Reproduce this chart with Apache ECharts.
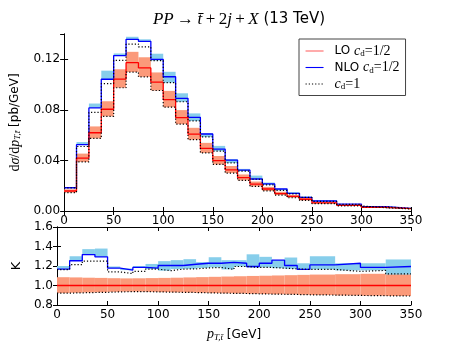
<!DOCTYPE html>
<html>
<head>
<meta charset="utf-8">
<script src="https://cdn.jsdelivr.net/npm/echarts@6/dist/echarts.min.js"></script>
<style>
  html, body { margin: 0; padding: 0; background: #fff; }
  #chart { width: 457px; height: 343px; }
</style>
</head>
<body>
<div id="chart"></div>
<script>
// bin edges in GeV (12.5 wide up to 250, then 25 wide)
const edges = [0, 12.5, 25, 37.5, 50, 62.5, 75, 87.5, 100, 112.5, 125, 137.5, 150,
  162.5, 175, 187.5, 200, 212.5, 225, 237.5, 250, 275, 300, 325, 350];

// upper panel: d sigma / d pT  [pb/GeV]
const nlo = [0.0184, 0.0525, 0.0815, 0.1042, 0.1229, 0.1358, 0.1342, 0.1200, 0.1062, 0.0891, 0.0741, 0.0609,
  0.0490, 0.0403, 0.0324, 0.0253, 0.0214, 0.0174, 0.0140, 0.0108, 0.0079, 0.0055, 0.0034, 0.0021];
const nloDot = [0.0183, 0.0510, 0.0780, 0.1008, 0.1192, 0.1320, 0.1298, 0.1190, 0.1015, 0.0864, 0.0713, 0.0586,
  0.0473, 0.0381, 0.0316, 0.0251, 0.0206, 0.0163, 0.0136, 0.0108, 0.0076, 0.0052, 0.0033, 0.0020];
const nloLo = [0.0184, 0.0525, 0.0815, 0.1042, 0.1229, 0.1358, 0.1342, 0.1190, 0.1015, 0.0863, 0.0712, 0.0585,
  0.0473, 0.0380, 0.0315, 0.0251, 0.0206, 0.0163, 0.0136, 0.0108, 0.0076, 0.0052, 0.0033, 0.0020];
const nloHi = [0.0190, 0.0545, 0.0850, 0.1110, 0.1246, 0.1378, 0.1358, 0.1244, 0.1101, 0.0931, 0.0772, 0.0615,
  0.0515, 0.0411, 0.0333, 0.0280, 0.0225, 0.0176, 0.0149, 0.0114, 0.0085, 0.0056, 0.0036, 0.0023];
const lo = [0.0158, 0.0419, 0.0619, 0.0805, 0.1043, 0.1173, 0.1132, 0.1019, 0.0881, 0.0739, 0.0608, 0.0496,
  0.0399, 0.0326, 0.0264, 0.0212, 0.0174, 0.0138, 0.0116, 0.0093, 0.0065, 0.0045, 0.0029, 0.0018];
const loDot = [0.0146, 0.0388, 0.0574, 0.0749, 0.0975, 0.1099, 0.1061, 0.0953, 0.0821, 0.0687, 0.0564, 0.0459,
  0.0368, 0.0300, 0.0242, 0.0194, 0.0159, 0.0126, 0.0105, 0.0084, 0.0059, 0.0040, 0.0026, 0.0016];
const loHi = [0.0171, 0.0454, 0.0669, 0.0868, 0.1121, 0.1259, 0.1216, 0.1096, 0.0950, 0.0798, 0.0658, 0.0539,
  0.0435, 0.0356, 0.0289, 0.0233, 0.0191, 0.0152, 0.0128, 0.0103, 0.0072, 0.0050, 0.0032, 0.0020];

// lower panel: K factor
const kNlo = [1.168, 1.254, 1.317, 1.294, 1.178, 1.158, 1.185, 1.178, 1.205, 1.205, 1.218, 1.228,
  1.228, 1.237, 1.228, 1.195, 1.228, 1.260, 1.205, 1.165, 1.211, 1.228, 1.185, 1.195];
const kNloDot = [1.163, 1.215, 1.250, 1.250, 1.139, 1.122, 1.145, 1.168, 1.152, 1.168, 1.171, 1.180,
  1.185, 1.165, 1.195, 1.185, 1.185, 1.178, 1.171, 1.165, 1.165, 1.145, 1.155, 1.120];
const kNloLo = [1.168, 1.254, 1.317, 1.294, 1.178, 1.158, 1.185, 1.168, 1.152, 1.168, 1.171, 1.180,
  1.185, 1.165, 1.195, 1.185, 1.185, 1.178, 1.171, 1.165, 1.165, 1.155, 1.155, 1.112];
const kNloHi = [1.200, 1.300, 1.373, 1.379, 1.195, 1.175, 1.200, 1.221, 1.250, 1.260, 1.270, 1.240,
  1.290, 1.260, 1.260, 1.320, 1.294, 1.260, 1.287, 1.228, 1.300, 1.228, 1.228, 1.267];
const kLo = [1, 1, 1, 1, 1, 1, 1, 1, 1, 1, 1, 1, 1, 1, 1, 1, 1, 1, 1, 1, 1, 1, 1, 1];
const kLoDot = [0.922, 0.925, 0.928, 0.930, 0.935, 0.937, 0.937, 0.935, 0.932, 0.930, 0.928, 0.925,
  0.922, 0.920, 0.918, 0.915, 0.912, 0.910, 0.908, 0.905, 0.902, 0.898, 0.895, 0.892];
const kLoHi = [1.085, 1.083, 1.080, 1.078, 1.075, 1.073, 1.074, 1.076, 1.078, 1.080, 1.083, 1.086,
  1.089, 1.092, 1.095, 1.098, 1.100, 1.103, 1.106, 1.109, 1.112, 1.116, 1.120, 1.124];

const FONT = 'DejaVu Sans';
const MATH = 'Liberation Serif';
const BLUE = '#0000ff', RED = '#ff0000';
const BLUE_BAND = '#87ceeb', RED_BAND = '#fb9a7a';

const stepData = vals => edges.map((e, i) => [e, vals[Math.min(i, vals.length - 1)]]);
const binData = (a, b) => a.map((v, i) => [edges[i], edges[i + 1], v, b[i]]);

const bandRender = color => (params, api) => {
  const p0 = api.coord([api.value(0), api.value(3)]);
  const p1 = api.coord([api.value(1), api.value(2)]);
  return {
    type: 'rect',
    shape: { x: p0[0], y: p0[1], width: p1[0] - p0[0], height: p1[1] - p0[1] },
    style: { fill: color }
  };
};

const band = (name, a, b, color, xi, yi) => ({
  name, type: 'custom', xAxisIndex: xi, yAxisIndex: yi, clip: true, z: 1,
  renderItem: bandRender(color), encode: { x: [0, 1], y: [2, 3] }, data: binData(a, b)
});
const step = (name, vals, color, xi, yi, dotted) => ({
  name, type: 'line', step: 'end', xAxisIndex: xi, yAxisIndex: yi, symbol: 'none', z: dotted ? 4 : 3,
  lineStyle: { color, width: dotted ? 1.2 : 1.3, type: dotted ? [1.2, 2] : 'solid' },
  itemStyle: { color }, data: stepData(vals)
});

const rich = {
  n: { fontFamily: FONT, fontSize: 12, color: '#000' },
  m: { fontFamily: MATH, fontStyle: 'italic', fontSize: 14, color: '#000' },
  r: { fontFamily: MATH, fontSize: 14, color: '#000' },
  si: { fontFamily: MATH, fontStyle: 'italic', fontSize: 9, color: '#000', padding: [6, 0, 0, 0] }
};

const xAxisBase = (gi, pos, labels) => ({
  type: 'value', gridIndex: gi, position: pos, min: 0, max: 350, interval: 50,
  axisLine: { lineStyle: { color: '#000', width: 1 } },
  axisTick: { inside: true, length: 4, lineStyle: { color: '#000' } },
  axisLabel: { show: labels, fontFamily: FONT, fontSize: 12, color: '#000', margin: 4 },
  splitLine: { show: false }
});
const yAxisBase = (gi, pos, min, max, interval, labels, digits) => ({
  type: 'value', gridIndex: gi, position: pos, min, max, interval,
  axisLine: { show: true, lineStyle: { color: '#000', width: 1 } },
  axisTick: { show: true, inside: true, length: 4, lineStyle: { color: '#000' } },
  axisLabel: { show: labels, showMaxLabel: gi === 1, fontFamily: FONT, fontSize: 12, color: '#000', margin: 4,
    formatter: v => v.toFixed(digits) },
  splitLine: { show: false }
});

const chart = echarts.init(document.getElementById('chart'));

const sp = '\u2009';
const option = {
  animation: false,
  backgroundColor: '#fff',
  title: {
    text: '{m|PP}{r|' + sp + '\u2192' + sp + '}{m|t\u0304}{r|' + sp + '+' + sp + '2}{m|j}{r|' + sp + '+' + sp + '}{m|X}{n| (13 TeV)}',
    left: 234, top: 6, textAlign: 'center',
    textStyle: { fontWeight: 'normal', rich: {
      m: { fontFamily: MATH, fontStyle: 'italic', fontWeight: 'normal', fontSize: 17, color: '#000' },
      r: { fontFamily: MATH, fontWeight: 'normal', fontSize: 17, color: '#000' },
      n: { fontFamily: FONT, fontWeight: 'normal', fontSize: 15, color: '#000' }
    } }
  },
  legend: {
    orient: 'vertical', left: 299, top: 39,
    padding: [5, 6, 4, 6], itemWidth: 18, itemHeight: 14, itemGap: 2,
    borderColor: '#444', borderWidth: 1, backgroundColor: '#fff',
    itemStyle: { opacity: 0 },
    lineStyle: { width: 1.1 },
    data: [
      { name: 'LO', lineStyle: { color: '#ff6666', width: 1.1 } },
      { name: 'NLO' },
      { name: 'cd1' }
    ],
    formatter: name => ({
      LO: '{n|LO }{m|c}{si|d}{r|=1/2}',
      NLO: '{n|NLO }{m|c}{si|d}{r|=1/2}',
      cd1: '{m|c}{si|d}{r|=1}'
    })[name],
    textStyle: { padding: [0, 0, 0, 6], rich: {
      n: { fontFamily: FONT, fontSize: 12, color: '#000' },
      m: { fontFamily: MATH, fontStyle: 'italic', fontSize: 14, color: '#000' },
      r: { fontFamily: MATH, fontSize: 14, color: '#000' },
      si: { fontFamily: MATH, fontSize: 9, color: '#000', padding: [6, 0, 0, 0] }
    } }
  },
  grid: [
    { left: 57, top: 34, width: 354, height: 177 },
    { left: 57, top: 227, width: 354, height: 81 }
  ],
  xAxis: [
    xAxisBase(0, 'bottom', true),
    xAxisBase(0, 'top', false),
    Object.assign(xAxisBase(1, 'bottom', true), {
      name: '{m|p}{si|T,t\u0304}{n| [GeV]}', nameLocation: 'middle', nameGap: 22,
      nameTextStyle: { rich }
    }),
    xAxisBase(1, 'top', false)
  ],
  yAxis: [
    Object.assign(yAxisBase(0, 'left', 0, 0.14, 0.04, true, 2), {
      name: '{r|d}{m|\u03c3}{r|/d}{m|p}{si|T,t\u0304}{n| [pb/GeV]}', nameLocation: 'middle', nameGap: 36,
      nameRotate: 90, nameTextStyle: { rich }
    }),
    yAxisBase(0, 'right', 0, 0.14, 0.04, false, 2),
    Object.assign(yAxisBase(1, 'left', 0.8, 1.6, 0.2, true, 1), {
      name: 'K', nameLocation: 'middle', nameGap: 26, nameRotate: 90,
      nameTextStyle: { fontFamily: FONT, fontSize: 13, color: '#000' }
    }),
    yAxisBase(1, 'right', 0.8, 1.6, 0.2, false, 1)
  ],
  series: [
    band('LOband', loDot, loHi, RED_BAND, 0, 0),
    band('NLOband', nloLo, nloHi, BLUE_BAND, 0, 0),
    step('NLO', nlo, BLUE, 0, 0, false),
    step('LO', lo, RED, 0, 0, false),
    step('cd1', nloDot, '#000', 0, 0, true),
    step('cd1', loDot, '#000', 0, 0, true),

    band('LOband', kLoDot, kLoHi, RED_BAND, 2, 2),
    band('NLOband', kNloLo, kNloHi, BLUE_BAND, 2, 2),
    step('NLO', kNlo, BLUE, 2, 2, false),
    step('LO', kLo, RED, 2, 2, false),
    step('cd1', kNloDot, '#000', 2, 2, true),
    step('cd1', kLoDot, '#000', 2, 2, true)
  ]
};

chart.setOption(option);
window.addEventListener('resize', () => chart.resize());
</script>
</body>
</html>
